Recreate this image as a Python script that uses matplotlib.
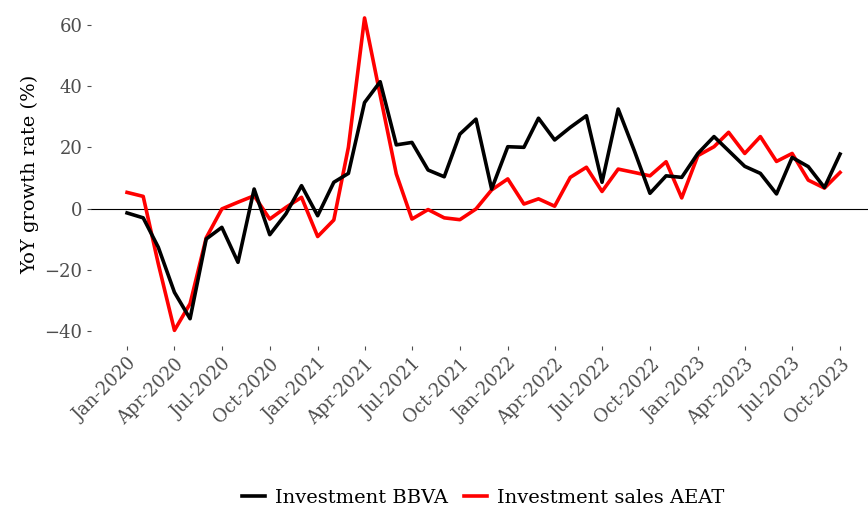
import pandas as pd
import matplotlib.pyplot as plt
import matplotlib.dates as mdates

# Datos mensuales (variación interanual, %)
months = pd.date_range("2020-01-01", "2023-10-01", freq="MS")

bbva = [-1.4, -3.0, -12.6, -27.3, -35.9, -9.9, -6.1, -17.5, 6.4, -8.5, -1.7, 7.5,
        -2.3, 8.6, 11.5, 34.6, 41.4, 20.8, 21.6, 12.6, 10.4, 24.3, 29.2, 6.4,
        20.2, 20.0, 29.5, 22.4, 26.5, 30.3, 8.6, 32.5, 18.9, 5.0, 10.7, 10.2,
        18.0, 23.5, 18.9, 13.8, 11.5, 4.8, 16.7, 13.7, 6.9, 17.8]

aeat = [5.3, 4.0, -18.0, -39.7, -31.0, -9.5, -0.1, 2.1, 4.2, -3.4, 0.4, 3.7,
        -9.1, -3.7, 20.0, 62.2, 37.0, 11.3, -3.4, -0.3, -3.0, -3.6, -0.1, 6.1,
        9.7, 1.5, 3.2, 0.8, 10.2, 13.5, 5.6, 12.9, 11.8, 10.7, 15.3, 3.5,
        17.3, 20.2, 24.9, 18.0, 23.5, 15.4, 18.0, 9.3, 6.7, 11.8]

yticks = [-40, -20, 0, 20, 40, 60]
tick_dates = pd.date_range("2020-01-01", "2023-10-01", freq="3MS")

plt.rcParams["font.family"] = ["DejaVu Serif"]

fig = plt.figure(figsize=(8.68, 5.15), dpi=100)
ax = fig.add_axes([91.4 / 868, 1 - 346 / 515, 784.3 / 868, (346 - 2) / 515])

ax.axhline(0, color="black", linewidth=0.8, zorder=1)
ax.plot(months, bbva, color="black", linewidth=2.6, label="Investment BBVA", zorder=3)
ax.plot(months, aeat, color="red", linewidth=2.6, label="Investment sales AEAT", zorder=2)

span = months[-1] - months[0]
ax.set_xlim(months[0] - span * 0.05, months[-1] + span * 0.05)
ax.set_ylim(-44.8, 67.4)

ax.set_yticks(yticks)
ax.set_xticks(tick_dates)
ax.xaxis.set_major_formatter(mdates.DateFormatter("%b-%Y"))
ax.tick_params(axis="both", colors="#4d4d4d", labelsize=13, length=3, width=0.8)
plt.setp(ax.get_xticklabels(), rotation=45, ha="right", rotation_mode="anchor")

for s in ax.spines.values():
    s.set_visible(False)

ax.set_ylabel("YoY growth rate (%)", fontsize=14, color="black", labelpad=4)

fig.legend(loc="center", bbox_to_anchor=(483 / 868, 1 - 498 / 515), ncol=2,
           frameon=False, fontsize=14, handlelength=1.2, columnspacing=0.8,
           handletextpad=0.5)

plt.savefig("out.png", dpi=100)
